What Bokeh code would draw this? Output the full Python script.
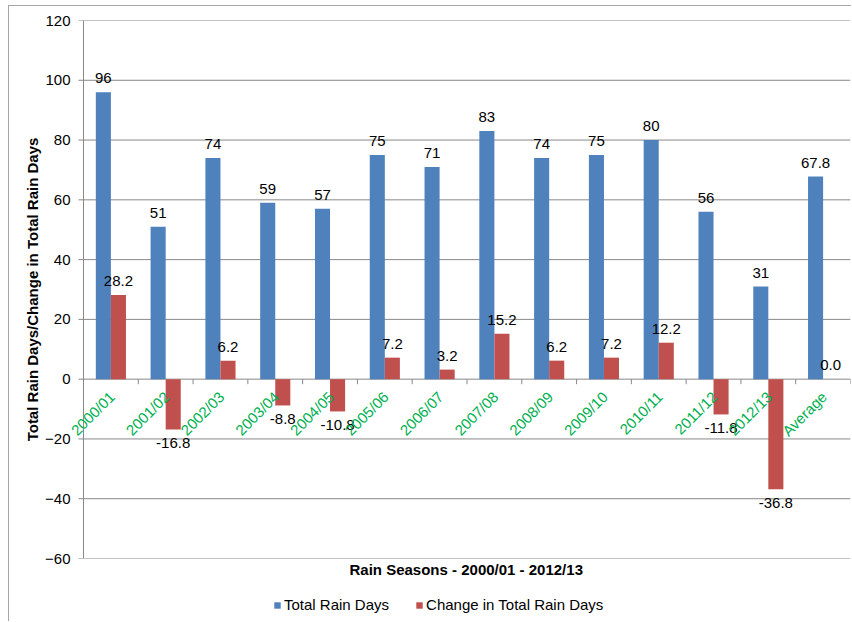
import numpy as np
from bokeh.plotting import figure
from bokeh.layouts import column
from bokeh.models import (ColumnDataSource, Range1d, FixedTicker, Legend, LegendItem, Title)
from bokeh.core.properties import value
from bokeh.embed import file_html
from bokeh.resources import INLINE

# ---- data ----
seasons = ["2000/01", "2001/02", "2002/03", "2003/04", "2004/05", "2005/06", "2006/07",
           "2007/08", "2008/09", "2009/10", "2010/11", "2011/12", "2012/13", "Average"]
total_days = [96, 51, 74, 59, 57, 75, 71, 83, 74, 75, 80, 56, 31, 67.8]
change_days = [28.2, -16.8, 6.2, -8.8, -10.8, 7.2, 3.2, 15.2, 6.2, 7.2, 12.2, -11.8, -36.8, 0.0]
total_labels = ["96", "51", "74", "59", "57", "75", "71", "83", "74", "75", "80", "56", "31", "67.8"]
change_labels = ["28.2", "-16.8", "6.2", "-8.8", "-10.8", "7.2", "3.2", "15.2", "6.2", "7.2",
                 "12.2", "-11.8", "-36.8", "0.0"]
series_names = ["Total Rain Days", "Change in Total Rain Days"]
y_ticks = [-60, -40, -20, 0, 20, 40, 60, 80, 100, 120]
y_min, y_max = -60, 120

FONT = "Liberation Sans"
BLUE = "#4F81BD"
RED = "#C0504D"
GREEN = "#00B050"
GRID = "#888888"
BORDER = "1px solid #a6a6a6"

n = len(seasons)
idx = np.arange(n)
off = 0.1375
bw = 0.275

W = 843
H1 = 582
FRAME_W = 780
FRAME_H = 538
extra_left_px = 13
px_per_x = FRAME_W / (n + extra_left_px / 54.8)
x_lo = -0.5 - extra_left_px / px_per_x
tick_px = 5
tick_dx = tick_px / px_per_x
tick_dy = tick_px * (y_max - y_min) / FRAME_H

p = figure(width=W, height=H1, x_range=Range1d(x_lo, n - 0.5), y_range=Range1d(y_min, y_max),
           output_backend="svg", toolbar_location=None, x_axis_location=None,
           min_border_left=61, min_border_top=14, min_border_right=2, min_border_bottom=30,
           margin=(5, 0, 0, 8), styles={"border-left": BORDER, "border-top": BORDER})
p.outline_line_color = None
p.background_fill_color = "white"
p.border_fill_color = "white"
p.grid.visible = False

# value axis: labels only (line, ticks and grid drawn below from the tick values)
ya = p.yaxis[0]
ya.ticker = FixedTicker(ticks=y_ticks)
ya.axis_line_color = None
ya.major_tick_line_color = None
ya.minor_tick_line_color = None
ya.major_tick_out = 0
ya.major_tick_in = 0
ya.major_label_text_font = FONT
ya.major_label_text_font_size = "15px"
ya.major_label_text_color = "#000000"
ya.major_label_standoff = 0

# gridlines (with outer tick marks) and axis line
gy = np.array(y_ticks, dtype=float)
p.segment(x0=np.full(len(gy), -0.5 - tick_dx), y0=gy, x1=np.full(len(gy), n - 0.5), y1=gy,
          line_color=GRID, line_width=1)
p.segment(x0=[-0.5], y0=[y_min], x1=[-0.5], y1=[y_max], line_color=GRID, line_width=1)

# category tick marks on the zero line
tx = np.arange(1, n + 1) - 0.5
p.segment(x0=tx, y0=np.zeros(n), x1=tx, y1=np.full(n, -tick_dy), line_color=GRID, line_width=1)

# bars
src = ColumnDataSource(dict(xb=idx - off, xr=idx + off, total=total_days, change=change_days))
p.vbar(x="xb", top="total", bottom=0, width=bw, source=src, fill_color=BLUE, line_color=None)
p.vbar(x="xr", top="change", bottom=0, width=bw, source=src, fill_color=RED, line_color=None)

# data labels
p.text(x=idx - off, y=total_days, text=total_labels, text_align="center", text_baseline="alphabetic",
       y_offset=-14, text_font=value(FONT), text_font_size="15px", text_color="#000000")
pos = [i for i in range(n) if change_days[i] >= 0]
neg = [i for i in range(n) if change_days[i] < 0]
p.text(x=[idx[i] + off for i in pos], y=[change_days[i] for i in pos], text=[change_labels[i] for i in pos],
       text_align="center", text_baseline="alphabetic", y_offset=-14,
       text_font=value(FONT), text_font_size="15px", text_color="#000000")
p.text(x=[idx[i] + off for i in neg], y=[change_days[i] for i in neg], text=[change_labels[i] for i in neg],
       text_align="center", text_baseline="alphabetic", y_offset=14,
       text_font=value(FONT), text_font_size="15px", text_color="#000000")

# category labels at zero line, rotated
p.text(x=idx, y=np.zeros(n), text=seasons, angle=np.pi / 4, text_align="right", text_baseline="middle",
       x_offset=1, y_offset=15, text_font=value(FONT), text_font_size="15px", text_color=GREEN)

# axis titles
p.add_layout(Title(text="Total Rain Days/Change in Total Rain Days", align="center",
                   standoff=4, text_font=FONT, text_font_size="15px", text_font_style="bold",
                   text_color="#000000"), "left")
p.add_layout(Title(text="Rain Seasons - 2000/01 - 2012/13", align="left", offset=279,
                   standoff=0, text_font=FONT, text_font_size="15px", text_font_style="bold",
                   text_color="#000000"), "below")

# legend strip below the chart (series drawn off-screen only to supply legend swatches)
H2 = 34
q = figure(width=W, height=H2, x_range=Range1d(0, 1), y_range=Range1d(1000, 1001),
           output_backend="svg", toolbar_location=None, x_axis_location=None, y_axis_location=None,
           min_border=0, margin=(0, 0, 0, 8), styles={"border-left": BORDER})
q.outline_line_color = None
q.grid.visible = False
lb = q.vbar(x=idx, top=total_days, width=bw, fill_color=BLUE, line_color=None)
lr = q.vbar(x=idx, top=change_days, width=bw, fill_color=RED, line_color=None)
legend = Legend(items=[LegendItem(label=series_names[0], renderers=[lb]),
                       LegendItem(label=series_names[1], renderers=[lr])],
                orientation="horizontal", location=(203, 8))
legend.glyph_width = 8
legend.glyph_height = 8
legend.label_text_font = FONT
legend.label_text_font_size = "15px"
legend.label_text_color = "#000000"
legend.label_standoff = 3
legend.spacing = 26
legend.padding = 0
legend.margin = 0
legend.border_line_color = None
legend.background_fill_alpha = 0
q.add_layout(legend)

layout = column(p, q, spacing=0)
open("out.html", "w").write(file_html(layout, INLINE))
